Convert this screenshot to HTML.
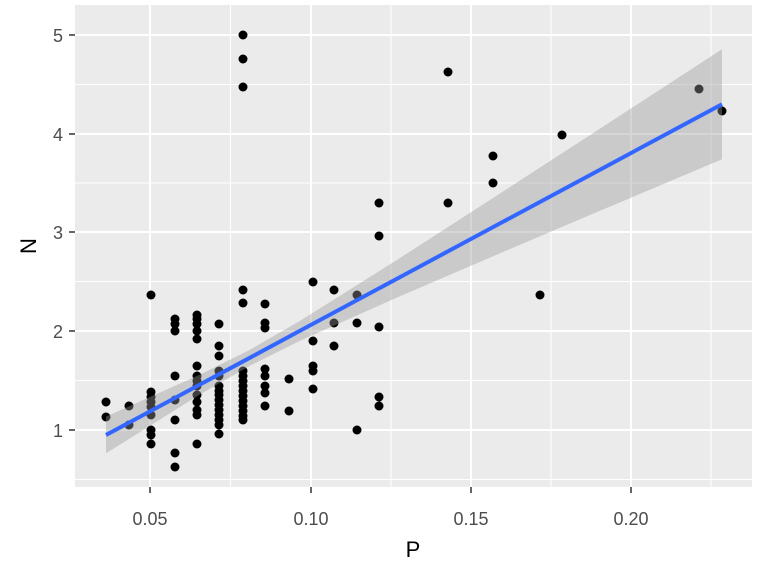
<!DOCTYPE html>
<html><head><meta charset="utf-8"><style>body{margin:0;background:#fff}svg{display:block}</style></head><body>
<svg width="768" height="576" xmlns="http://www.w3.org/2000/svg" font-family="Liberation Sans, sans-serif">
<rect x="75" y="5" width="677" height="482" fill="#ebebeb"/>
<g stroke="#fff" stroke-width="1">
<line x1="75" x2="752" y1="479.5" y2="479.5"/><line x1="75" x2="752" y1="380.5" y2="380.5"/><line x1="75" x2="752" y1="281.5" y2="281.5"/><line x1="75" x2="752" y1="183" y2="183"/><line x1="75" x2="752" y1="84.5" y2="84.5"/>
<line y1="5" y2="487" x1="230.5" x2="230.5"/><line y1="5" y2="487" x1="391" x2="391"/><line y1="5" y2="487" x1="551" x2="551"/><line y1="5" y2="487" x1="711" x2="711"/>
</g>
<g stroke="#fff" stroke-width="2">
<line x1="75" x2="752" y1="430" y2="430"/><line x1="75" x2="752" y1="331" y2="331"/><line x1="75" x2="752" y1="232" y2="232"/><line x1="75" x2="752" y1="134" y2="134"/><line x1="75" x2="752" y1="35" y2="35"/>
<line y1="5" y2="487" x1="150" x2="150"/><line y1="5" y2="487" x1="311" x2="311"/><line y1="5" y2="487" x1="471" x2="471"/><line y1="5" y2="487" x1="631" x2="631"/>
</g>
<g fill="#000">
<circle cx="106" cy="402" r="4.5"/><circle cx="106" cy="417" r="4.5"/>
<circle cx="129" cy="406" r="4.5"/><circle cx="129" cy="425" r="4.5"/>
<circle cx="151" cy="295" r="4.5"/><circle cx="151" cy="392" r="4.5"/><circle cx="151" cy="397" r="4.5"/><circle cx="151" cy="402" r="4.5"/><circle cx="151" cy="407" r="4.5"/><circle cx="151" cy="415" r="4.5"/><circle cx="151" cy="430" r="4.5"/><circle cx="151" cy="435" r="4.5"/><circle cx="151" cy="444" r="4.5"/>
<circle cx="175" cy="319" r="4.5"/><circle cx="175" cy="324" r="4.5"/><circle cx="175" cy="331" r="4.5"/><circle cx="175" cy="376" r="4.5"/><circle cx="175" cy="400" r="4.5"/><circle cx="175" cy="420" r="4.5"/><circle cx="175" cy="453" r="4.5"/><circle cx="175" cy="467" r="4.5"/>
<circle cx="197" cy="315" r="4.5"/><circle cx="197" cy="319" r="4.5"/><circle cx="197" cy="324" r="4.5"/><circle cx="197" cy="331" r="4.5"/><circle cx="197" cy="339" r="4.5"/><circle cx="197" cy="366" r="4.5"/><circle cx="197" cy="376" r="4.5"/><circle cx="197" cy="381" r="4.5"/><circle cx="197" cy="386" r="4.5"/><circle cx="197" cy="395" r="4.5"/><circle cx="197" cy="402" r="4.5"/><circle cx="197" cy="410" r="4.5"/><circle cx="197" cy="415" r="4.5"/><circle cx="197" cy="444" r="4.5"/>
<circle cx="219" cy="324" r="4.5"/><circle cx="219" cy="346" r="4.5"/><circle cx="219" cy="356" r="4.5"/><circle cx="219" cy="371" r="4.5"/><circle cx="219" cy="376" r="4.5"/><circle cx="219" cy="386" r="4.5"/><circle cx="219" cy="391" r="4.5"/><circle cx="219" cy="395" r="4.5"/><circle cx="219" cy="400" r="4.5"/><circle cx="219" cy="405" r="4.5"/><circle cx="219" cy="410" r="4.5"/><circle cx="219" cy="415" r="4.5"/><circle cx="219" cy="420" r="4.5"/><circle cx="219" cy="425" r="4.5"/><circle cx="219" cy="434" r="4.5"/>
<circle cx="243" cy="35" r="4.5"/><circle cx="243" cy="59" r="4.5"/><circle cx="243" cy="87" r="4.5"/><circle cx="243" cy="290" r="4.5"/><circle cx="243" cy="303" r="4.5"/>
<circle cx="243" cy="371" r="4.5"/><circle cx="243" cy="376" r="4.5"/><circle cx="243" cy="381" r="4.5"/><circle cx="243" cy="386" r="4.5"/><circle cx="243" cy="391" r="4.5"/><circle cx="243" cy="396" r="4.5"/><circle cx="243" cy="401" r="4.5"/><circle cx="243" cy="406" r="4.5"/><circle cx="243" cy="411" r="4.5"/><circle cx="243" cy="416" r="4.5"/><circle cx="243" cy="420" r="4.5"/>
<circle cx="265" cy="304" r="4.5"/><circle cx="265" cy="323" r="4.5"/><circle cx="265" cy="328" r="4.5"/><circle cx="265" cy="369" r="4.5"/><circle cx="265" cy="376" r="4.5"/><circle cx="265" cy="386" r="4.5"/><circle cx="265" cy="393" r="4.5"/><circle cx="265" cy="406" r="4.5"/>
<circle cx="289" cy="379" r="4.5"/><circle cx="289" cy="411" r="4.5"/>
<circle cx="313" cy="282" r="4.5"/><circle cx="313" cy="341" r="4.5"/><circle cx="313" cy="366" r="4.5"/><circle cx="313" cy="371" r="4.5"/><circle cx="313" cy="389" r="4.5"/>
<circle cx="334" cy="290" r="4.5"/><circle cx="334" cy="323" r="4.5"/><circle cx="334" cy="346" r="4.5"/>
<circle cx="357" cy="295" r="4.5"/><circle cx="357" cy="323" r="4.5"/><circle cx="357" cy="430" r="4.5"/>
<circle cx="379" cy="203" r="4.5"/><circle cx="379" cy="236" r="4.5"/><circle cx="379" cy="327" r="4.5"/><circle cx="379" cy="397" r="4.5"/><circle cx="379" cy="406" r="4.5"/>
<circle cx="448" cy="72" r="4.5"/><circle cx="448" cy="203" r="4.5"/>
<circle cx="493" cy="156" r="4.5"/><circle cx="493" cy="183" r="4.5"/>
<circle cx="540" cy="295" r="4.5"/><circle cx="562" cy="135" r="4.5"/><circle cx="699" cy="89" r="4.5"/><circle cx="722" cy="111" r="4.5"/>
</g>
<polygon fill="#999" fill-opacity="0.4" points="106,416.6 200,374.6 250,349.7 300,320.9 400,258 500,193.5 600,128.6 722,49.2 722,159.2 600,210.8 500,253.3 400,296.2 300,340.7 250,365.7 200,394.4 106,453.4"/>
<polyline fill="none" stroke="#3366ff" stroke-width="4" points="106,435 200,384.5 250,357.7 300,330.8 400,277.1 500,223.4 600,169.7 722,104.2"/>
<g stroke="#333" stroke-width="1.5">
<line x1="150" x2="150" y1="487" y2="493"/><line x1="311" x2="311" y1="487" y2="493"/><line x1="471" x2="471" y1="487" y2="493"/><line x1="631" x2="631" y1="487" y2="493"/>
<line x1="69" x2="75" y1="430" y2="430"/><line x1="69" x2="75" y1="331" y2="331"/><line x1="69" x2="75" y1="232" y2="232"/><line x1="69" x2="75" y1="134" y2="134"/><line x1="69" x2="75" y1="35" y2="35"/>
</g>
<g fill="#4d4d4d" font-size="18" text-anchor="middle">
<text x="150" y="525">0.05</text><text x="311" y="525">0.10</text><text x="471" y="525">0.15</text><text x="631" y="525">0.20</text>
</g>
<g fill="#4d4d4d" font-size="18" text-anchor="end">
<text x="63" y="437">1</text><text x="63" y="338">2</text><text x="63" y="239">3</text><text x="63" y="141">4</text><text x="63" y="42">5</text>
</g>
<text x="413" y="557" font-size="22" text-anchor="middle" fill="#000">P</text>
<text transform="translate(36,246) rotate(-90)" font-size="22" text-anchor="middle" fill="#000">N</text>
</svg>
</body></html>
